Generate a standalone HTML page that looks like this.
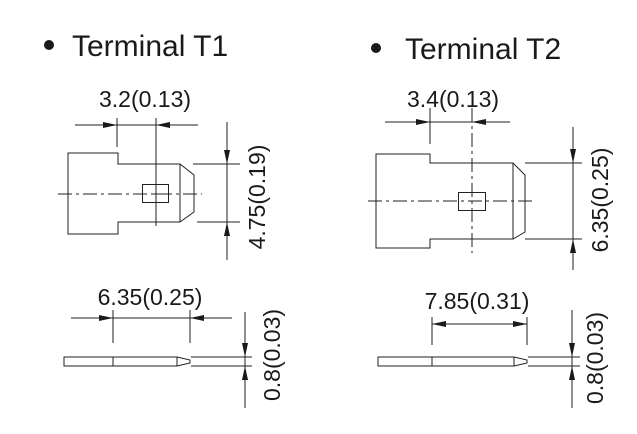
<!DOCTYPE html>
<html><head><meta charset="utf-8"><style>
html,body{margin:0;padding:0;background:#fff;}
svg{display:block;}
text{font-family:"Liberation Sans",Arial,sans-serif;fill:#1a1a1a;}
</style></head><body>
<svg width="637" height="434" viewBox="0 0 637 434" xmlns="http://www.w3.org/2000/svg">
<g fill="#1a1a1a">
<circle cx="49" cy="45" r="5"/>
<circle cx="376" cy="48" r="5"/>
</g>
<text x="72" y="56" font-size="30">Terminal T1</text>
<text x="405" y="59" font-size="30">Terminal T2</text>

<g stroke="#222" stroke-width="1" fill="none">
<line x1="75" y1="125" x2="198" y2="125"/>
<line x1="117" y1="118" x2="117" y2="147"/>
<line x1="156" y1="118" x2="156" y2="226"/>
<path d="M68 153 H118 V164 H180 L194 175 V212 L180 222 H118 V234 H68 Z"/>
<line x1="180" y1="164" x2="180" y2="222"/>
<rect x="142.5" y="184.5" width="26" height="18"/>
<line x1="58" y1="194" x2="202" y2="194" stroke-dasharray="14,4,3,4"/>
<line x1="193" y1="164" x2="240" y2="164"/>
<line x1="197" y1="222" x2="240" y2="222"/>
<line x1="227" y1="122" x2="227" y2="260"/>

<line x1="385" y1="122" x2="510" y2="122"/>
<line x1="430" y1="108" x2="430" y2="144"/>
<line x1="472" y1="108" x2="472" y2="253" stroke-dasharray="14,4,3,4"/>
<path d="M376 154 H430 V163 H513 L525 175 V232 L513 239 H430 V248 H376 Z"/>
<line x1="513" y1="163" x2="513" y2="239"/>
<rect x="458.5" y="192.5" width="27" height="18"/>
<line x1="368" y1="201" x2="535" y2="201" stroke-dasharray="14,4,3,4"/>
<line x1="525" y1="163" x2="582" y2="163"/>
<line x1="525" y1="239" x2="582" y2="239"/>
<line x1="573" y1="127" x2="573" y2="270"/>

<line x1="71" y1="318" x2="232" y2="318"/>
<line x1="113" y1="310" x2="113" y2="343"/>
<line x1="190" y1="310" x2="190" y2="343"/>
<path d="M64 357 H177 L190 360 V363 L177 366 H64 Z"/>
<line x1="113" y1="357" x2="113" y2="366"/>
<line x1="177" y1="357" x2="177" y2="366"/>
<line x1="191" y1="357" x2="252" y2="357"/>
<line x1="191" y1="366" x2="252" y2="366"/>
<line x1="245" y1="312" x2="245" y2="408"/>

<line x1="432" y1="324" x2="527" y2="324"/>
<line x1="432" y1="317" x2="432" y2="345"/>
<line x1="527" y1="317" x2="527" y2="345"/>
<path d="M378 357 H514 L527 360 V363 L514 366 H378 Z"/>
<line x1="432" y1="357" x2="432" y2="366"/>
<line x1="514" y1="357" x2="514" y2="366"/>
<line x1="528" y1="357" x2="580" y2="357"/>
<line x1="528" y1="366" x2="580" y2="366"/>
<line x1="572" y1="310" x2="572" y2="408"/>
</g>
<g stroke="#222" stroke-width="1">
<line x1="153" y1="194" x2="159" y2="194"/>
<line x1="156" y1="191" x2="156" y2="197"/>
</g>

<g fill="#1a1a1a">
<path d="M117 125 L103 122 L103 128 Z"/>
<path d="M156 125 L170 122 L170 128 Z"/>
<path d="M227 164 L224 150 L230 150 Z"/>
<path d="M227 222 L224 236 L230 236 Z"/>
<path d="M430 122 L416 119 L416 125 Z"/>
<path d="M472 122 L486 119 L486 125 Z"/>
<path d="M573 163 L570 149 L576 149 Z"/>
<path d="M573 239 L570 253 L576 253 Z"/>
<path d="M113 318 L99 315 L99 321 Z"/>
<path d="M190 318 L204 315 L204 321 Z"/>
<path d="M245 357 L242 343 L248 343 Z"/>
<path d="M245 366 L242 380 L248 380 Z"/>
<path d="M432 324 L446 321 L446 327 Z"/>
<path d="M527 324 L513 321 L513 327 Z"/>
<path d="M572 357 L569 343 L575 343 Z"/>
<path d="M572 366 L569 380 L575 380 Z"/>
</g>

<text x="145" y="107" font-size="23" text-anchor="middle">3.2(0.13)</text>
<text x="453" y="107" font-size="23" text-anchor="middle">3.4(0.13)</text>
<text x="150" y="305" font-size="23" text-anchor="middle">6.35(0.25)</text>
<text x="477" y="309" font-size="23" text-anchor="middle">7.85(0.31)</text>
<text transform="translate(265 197) rotate(-90)" font-size="23" text-anchor="middle">4.75(0.19)</text>
<text transform="translate(608 200) rotate(-90)" font-size="23" text-anchor="middle">6.35(0.25)</text>
<text transform="translate(280 355) rotate(-90)" font-size="23" text-anchor="middle">0.8(0.03)</text>
<text transform="translate(603 358) rotate(-90)" font-size="23" text-anchor="middle">0.8(0.03)</text>
</svg>
</body></html>
